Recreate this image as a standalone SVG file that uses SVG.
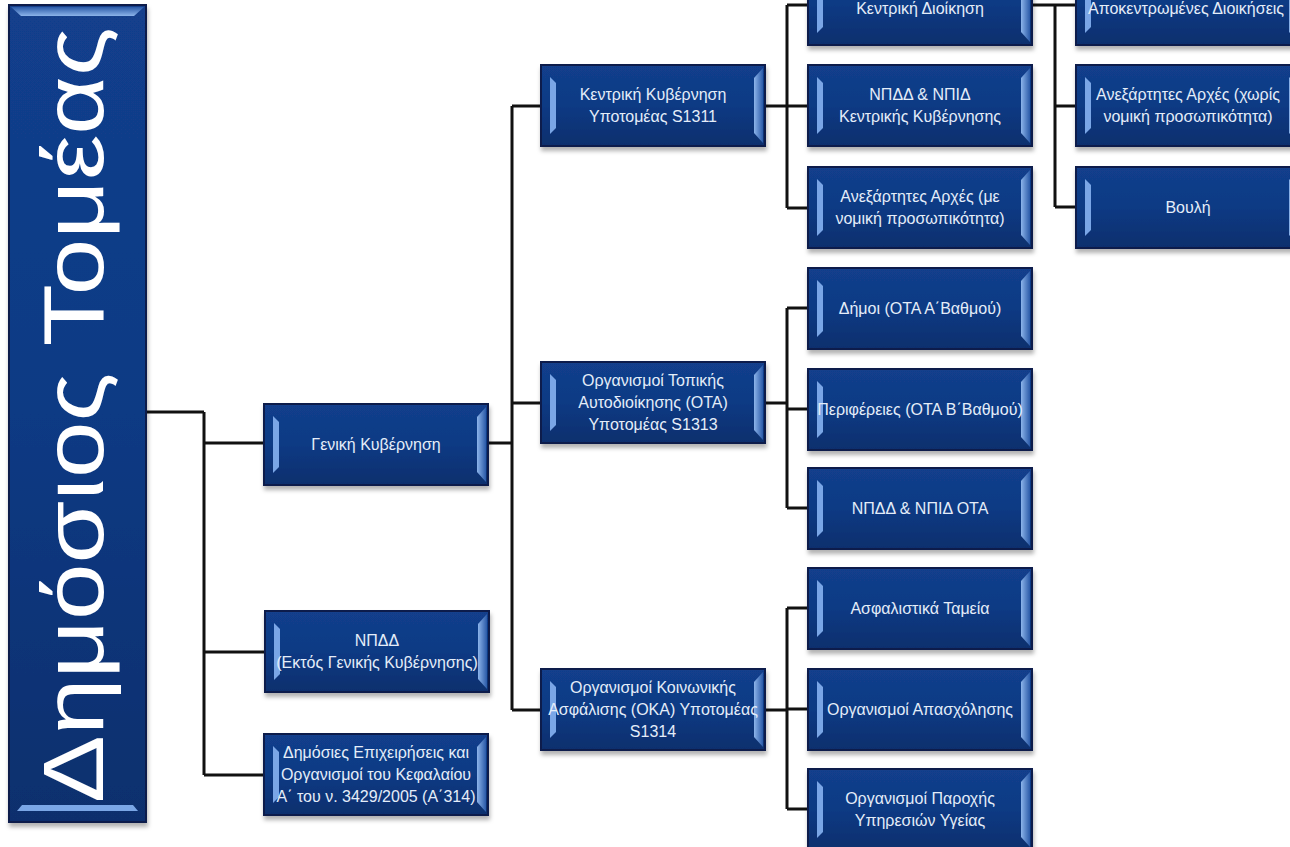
<svg xmlns="http://www.w3.org/2000/svg" xmlns:xlink="http://www.w3.org/1999/xlink" width="1290" height="847" viewBox="0 0 1290 847">
<style>
.lbl{font-family:"Liberation Sans","Noto Sans",Arial,sans-serif;font-size:16px;fill:#e4edf9;text-anchor:middle}
.big{font-family:"Liberation Sans","Noto Sans",Arial,sans-serif;font-size:85px;fill:#ffffff}
.con{fill:none;stroke:#111111;stroke-width:3}
</style>
<defs>
<linearGradient id="fill" x1="0" y1="0" x2="0" y2="1">
<stop offset="0" stop-color="#123f8c"/>
<stop offset="0.5" stop-color="#0f3a84"/>
<stop offset="1" stop-color="#0b2f6d"/>
</linearGradient>
<linearGradient id="rf" x1="0" y1="0" x2="1" y2="0">
<stop offset="0" stop-color="#8cb4ea"/>
<stop offset="1" stop-color="#2a5aa8"/>
</linearGradient>
<linearGradient id="tf" x1="0" y1="0" x2="0" y2="1">
<stop offset="0" stop-color="#2a5aa8"/>
<stop offset="1" stop-color="#8cb4ea"/>
</linearGradient>
<filter id="sh" x="-10%" y="-10%" width="130%" height="140%">
<feDropShadow dx="1" dy="4" stdDeviation="2" flood-color="#000" flood-opacity="0.3"/>
</filter>
<g id="box">
<rect x="0" y="0" width="224" height="81" fill="url(#fill)" stroke="#0a1f4c" stroke-width="2" filter="url(#sh)"/>
<path d="M9,12 L15,18 L15,63 L9,69 Z" fill="#7aa6e6"/>
<path d="M213,13 L222,3 L222,78 L213,68 Z" fill="url(#rf)"/>
</g>
</defs>
<rect width="1290" height="847" fill="#ffffff"/>

<g id="connectors">
<path class="con" d="M146,412 H204 M204,412 V775 M204,443 H264 M204,652 H265 M204,775 H264"/>
<path class="con" d="M488,443 H512 M512,106 V710 M512,106 H541 M512,403 H541 M512,710 H541"/>
<path class="con" d="M764,106 H787 M787,5 V208 M787,5 H808 M787,106 H808 M787,208 H808"/>
<path class="con" d="M764,403 H787 M787,308 V508 M787,308 H808 M787,409 H808 M787,508 H808"/>
<path class="con" d="M764,710 H787 M787,608 V809 M787,608 H808 M787,709 H808 M787,809 H808"/>
<path class="con" d="M1032,5 H1076 M1055,5 V207 M1055,106 H1076 M1055,207 H1076"/>
</g>

<g id="n-root">
<rect x="9" y="5" width="137" height="817" fill="url(#fill)" stroke="#0a1f4c" stroke-width="2" filter="url(#sh)"/>
<path d="M11,7 L144,7 L134,16 L21,16 Z" fill="url(#tf)"/>
<path d="M22,805 L133,805 L138,811 L17,811 Z" fill="#7aa6e6"/>
<text class="big" transform="translate(103,803) rotate(-90)" x="0" y="0" textLength="776" lengthAdjust="spacingAndGlyphs">Δημόσιος Τομέας</text>
</g>

<g id="n-geniki" transform="translate(264,404)"><use href="#box"/><text class="lbl" x="112" y="46">Γενική Κυβέρνηση</text></g>
<g id="n-npdd" transform="translate(265,611)"><use href="#box"/><text class="lbl" x="112" y="35">ΝΠΔΔ</text><text class="lbl" x="112" y="57">(Εκτός Γενικής Κυβέρνησης)</text></g>
<g id="n-dimosies" transform="translate(264,734)"><use href="#box"/><text class="lbl" x="112" y="24">Δημόσιες Επιχειρήσεις και</text><text class="lbl" x="112" y="46">Οργανισμοί του Κεφαλαίου</text><text class="lbl" x="112" y="68">Α΄ του ν. 3429/2005 (Α΄314)</text></g>

<g id="n-kentriki-kyv" transform="translate(541,65)"><use href="#box"/><text class="lbl" x="112" y="35">Κεντρική Κυβέρνηση</text><text class="lbl" x="112" y="57">Υποτομέας S1311</text></g>
<g id="n-ota" transform="translate(541,362)"><use href="#box"/><text class="lbl" x="112" y="24">Οργανισμοί Τοπικής</text><text class="lbl" x="112" y="46">Αυτοδιοίκησης (ΟΤΑ)</text><text class="lbl" x="112" y="68">Υποτομέας S1313</text></g>
<g id="n-oka" transform="translate(541,669)"><use href="#box"/><text class="lbl" x="112" y="24">Οργανισμοί Κοινωνικής</text><text class="lbl" x="112" y="46">Ασφάλισης (ΟΚΑ) Υποτομέας</text><text class="lbl" x="112" y="68">S1314</text></g>

<g id="n-kentriki-dioikisi" transform="translate(808,-36)"><use href="#box"/><text class="lbl" x="112" y="50">Κεντρική Διοίκηση</text></g>
<g id="n-npdd-npid-kk" transform="translate(808,65)"><use href="#box"/><text class="lbl" x="112" y="35">ΝΠΔΔ &amp; ΝΠΙΔ</text><text class="lbl" x="112" y="57">Κεντρικής Κυβέρνησης</text></g>
<g id="n-anex-me" transform="translate(808,167)"><use href="#box"/><text class="lbl" x="112" y="35">Ανεξάρτητες Αρχές (με</text><text class="lbl" x="112" y="57">νομική προσωπικότητα)</text></g>

<g id="n-dimoi" transform="translate(808,268)"><use href="#box"/><text class="lbl" x="112" y="46">Δήμοι (ΟΤΑ Α΄Βαθμού)</text></g>
<g id="n-perifereies" transform="translate(808,369)"><use href="#box"/><text class="lbl" x="112" y="46">Περιφέρειες (ΟΤΑ Β΄Βαθμού)</text></g>
<g id="n-npdd-ota" transform="translate(808,468)"><use href="#box"/><text class="lbl" x="112" y="46">ΝΠΔΔ &amp; ΝΠΙΔ ΟΤΑ</text></g>

<g id="n-tameia" transform="translate(808,568)"><use href="#box"/><text class="lbl" x="112" y="46">Ασφαλιστικά Ταμεία</text></g>
<g id="n-apasxolisi" transform="translate(808,669)"><use href="#box"/><text class="lbl" x="112" y="46">Οργανισμοί Απασχόλησης</text></g>
<g id="n-ygeia" transform="translate(808,769)"><use href="#box"/><text class="lbl" x="112" y="35">Οργανισμοί Παροχής</text><text class="lbl" x="112" y="57">Υπηρεσιών Υγείας</text></g>

<g id="n-apokentromenes" transform="translate(1076,-36)"><use href="#box"/><text class="lbl" x="110" y="50">Αποκεντρωμένες Διοικήσεις</text></g>
<g id="n-anex-xoris" transform="translate(1076,65)"><use href="#box"/><text class="lbl" x="112" y="35">Ανεξάρτητες Αρχές (χωρίς</text><text class="lbl" x="112" y="57">νομική προσωπικότητα)</text></g>
<g id="n-vouli" transform="translate(1076,167)"><use href="#box"/><text class="lbl" x="112" y="46">Βουλή</text></g>
</svg>
